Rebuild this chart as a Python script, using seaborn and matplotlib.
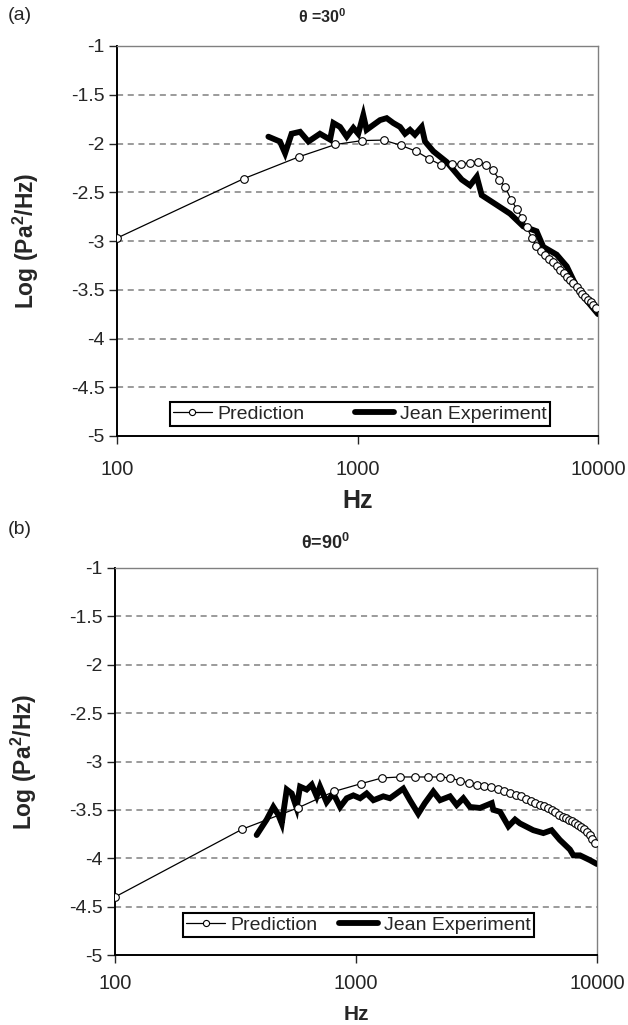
import matplotlib
matplotlib.use("Agg")
import matplotlib.pyplot as plt
import seaborn as sns
import numpy as np

# ---------------- data ----------------
pred_freq = [100, 337, 573, 810, 1046, 1283, 1519, 1756, 1992, 2229, 2465, 2702,
             2938, 3175, 3411, 3648, 3884, 4121, 4357, 4594, 4830, 5067, 5303,
             5540, 5776, 6013, 6249, 6486, 6722, 6959, 7195, 7432, 7668, 7905,
             8141, 8378, 8614, 8851, 9087, 9324, 9560, 9797]

pred_a = [-2.97, -2.36, -2.135, -2.01, -1.97, -1.965, -2.02, -2.08, -2.16, -2.22,
          -2.21, -2.21, -2.195, -2.19, -2.22, -2.27, -2.37, -2.45, -2.58, -2.67,
          -2.76, -2.86, -2.97, -3.05, -3.10, -3.14, -3.18, -3.22, -3.26, -3.30,
          -3.33, -3.37, -3.40, -3.43, -3.47, -3.51, -3.54, -3.57, -3.61, -3.63,
          -3.66, -3.69]

exp_a_freq = [426, 476, 500, 532, 577, 625, 698, 769, 794, 846, 902, 961, 1007,
              1057, 1091, 1163, 1241, 1322, 1409, 1503, 1577, 1653, 1733, 1849,
              1909, 2067, 2350, 2712, 2937, 3133, 3284, 3791, 4309, 4891, 5554,
              5923, 6732, 7413, 8147, 8974, 10000]
exp_a = [-1.93, -1.98, -2.10, -1.90, -1.88, -1.98, -1.90, -1.96, -1.79, -1.83,
         -1.93, -1.84, -1.90, -1.71, -1.86, -1.81, -1.76, -1.74, -1.79, -1.83,
         -1.90, -1.86, -1.91, -1.83, -1.98, -2.08, -2.19, -2.37, -2.43, -2.34,
         -2.53, -2.63, -2.72, -2.85, -2.90, -3.06, -3.14, -3.26, -3.47, -3.61,
         -3.75]

pred_b = [-4.40, -3.70, -3.48, -3.31, -3.23, -3.17, -3.16, -3.16, -3.16, -3.16,
          -3.17, -3.20, -3.22, -3.24, -3.25, -3.26, -3.28, -3.31, -3.33, -3.35,
          -3.36, -3.39, -3.41, -3.43, -3.45, -3.46, -3.48, -3.50, -3.52, -3.55,
          -3.57, -3.58, -3.60, -3.62, -3.64, -3.66, -3.68, -3.70, -3.73, -3.76,
          -3.80, -3.84]

exp_b_freq = [387, 426, 454, 476, 492, 516, 541, 567, 586, 624, 655, 687, 709,
              755, 805, 859, 915, 975, 1040, 1107, 1181, 1298, 1383, 1475, 1571,
              1674, 1812, 1931, 2093, 2232, 2455, 2617, 2789, 2971, 3270, 3658,
              3715, 3960, 4290, 4570, 4790, 5440, 5990, 6480, 7010, 7720, 7980,
              8500, 9350, 10000]
exp_b = [-3.76, -3.60, -3.47, -3.55, -3.64, -3.29, -3.33, -3.48, -3.26, -3.29,
         -3.24, -3.36, -3.26, -3.42, -3.33, -3.47, -3.38, -3.35, -3.38, -3.33,
         -3.40, -3.36, -3.38, -3.33, -3.28, -3.40, -3.54, -3.43, -3.31, -3.40,
         -3.36, -3.45, -3.38, -3.47, -3.48, -3.43, -3.50, -3.52, -3.67, -3.60,
         -3.64, -3.71, -3.74, -3.71, -3.81, -3.91, -3.97, -3.97, -4.02, -4.06]

y_ticks = [-1, -1.5, -2, -2.5, -3, -3.5, -4, -4.5, -5]
y_tick_labels = ["-1", "-1.5", "-2", "-2.5", "-3", "-3.5", "-4", "-4.5", "-5"]
x_ticks = [100, 1000, 10000]
x_tick_labels = ["100", "1000", "10000"]

# ---------------- style ----------------
sns.set_style("white")
plt.rcParams['font.family'] = ['Liberation Sans', 'DejaVu Sans']
plt.rcParams['mathtext.fontset'] = 'custom'
plt.rcParams['mathtext.rm'] = 'Liberation Sans'
plt.rcParams['mathtext.bf'] = 'Liberation Sans:bold'
plt.rcParams['mathtext.it'] = 'Liberation Sans:italic'

fig = plt.figure(figsize=(6.28, 10.25), dpi=100)
W, H = 628, 1025


def make_axes(left, top, right, bottom):
    return fig.add_axes([left / W, 1 - bottom / H, (right - left) / W, (bottom - top) / H])


ax_a = make_axes(117, 46, 598, 436)
ax_b = make_axes(115, 568, 597, 955)


def style_axes(ax, pred, exp_f, exp_v, hz_size, hz_y, colspace, leg_y, tick_pad):
    sns.lineplot(x=exp_f, y=exp_v, ax=ax, color='black', linewidth=4.2,
                 label='Jean Experiment', zorder=3, solid_joinstyle='miter')
    sns.lineplot(x=pred_freq, y=pred, ax=ax, color='black', linewidth=0.9,
                 marker='o', markersize=5.5, markerfacecolor='white',
                 markeredgecolor='black', markeredgewidth=0.8,
                 label='Prediction', zorder=4)
    ax.set_xscale('log')
    ax.set_xlim(100, 10000)
    ax.set_ylim(-5, -1)
    ax.set_yticks(y_ticks)
    ax.set_yticklabels(y_tick_labels, fontsize=14)
    ax.set_xticks(x_ticks)
    ax.set_xticklabels(x_tick_labels, fontsize=14.5)
    ax.xaxis.set_minor_locator(matplotlib.ticker.NullLocator())
    ax.tick_params(axis='y', direction='out', length=6, width=1, pad=3, left=True)
    ax.tick_params(axis='x', direction='out', length=6, width=1, pad=tick_pad, bottom=True)
    for yv in y_ticks[1:-1]:
        ax.axhline(yv, color='#808080', linewidth=1.1, linestyle=(0, (4, 3)), zorder=1)
    for s in ['left', 'bottom']:
        ax.spines[s].set_color('black')
        ax.spines[s].set_linewidth(1.4)
    for s in ['top', 'right']:
        ax.spines[s].set_color('#808080')
        ax.spines[s].set_linewidth(1.0)
    ax.set_ylabel(r"Log (Pa$^{\mathbf{2}}$/Hz)", fontsize=16.5, fontweight='bold')
    ax.yaxis.set_label_coords(-0.158, 0.5)
    ax.set_xlabel("Hz", fontsize=hz_size, fontweight='bold')
    ax.xaxis.set_label_coords(0.5, hz_y)
    handles, labels = ax.get_legend_handles_labels()
    order = [labels.index('Prediction'), labels.index('Jean Experiment')]
    leg = ax.legend([handles[i] for i in order], [labels[i] for i in order],
                    ncol=2, loc='lower center', bbox_to_anchor=(0.505, leg_y),
                    fontsize=14, frameon=True, fancybox=False, framealpha=1,
                    edgecolor='black', handlelength=2.0, handletextpad=0.3,
                    columnspacing=colspace, borderpad=0.15, borderaxespad=0,
                    markerscale=0.8)
    leg.get_frame().set_linewidth(1.5)
    leg.set_zorder(10)


style_axes(ax_a, pred_a, exp_a_freq, exp_a, 18, -0.135, 2.6, 0.026, 11)
style_axes(ax_b, pred_b, exp_b_freq, exp_b, 15, -0.13, 1.1, 0.047, 8)

fig.text(8 / W, 1 - 15 / H, "(a)", fontsize=14, va='center', ha='left')
fig.text(322 / W, 1 - 17 / H, r"θ =30$^{\mathbf{0}}$", fontsize=11.5,
         fontweight='bold', va='center', ha='center')
fig.text(8 / W, 1 - 530 / H, "(b)", fontsize=14, va='center', ha='left')
fig.text(326 / W, 1 - 543 / H, r"θ=90$^{\mathbf{0}}$", fontsize=13,
         fontweight='bold', va='center', ha='center')

fig.savefig("out.png", dpi=100, facecolor='white')
